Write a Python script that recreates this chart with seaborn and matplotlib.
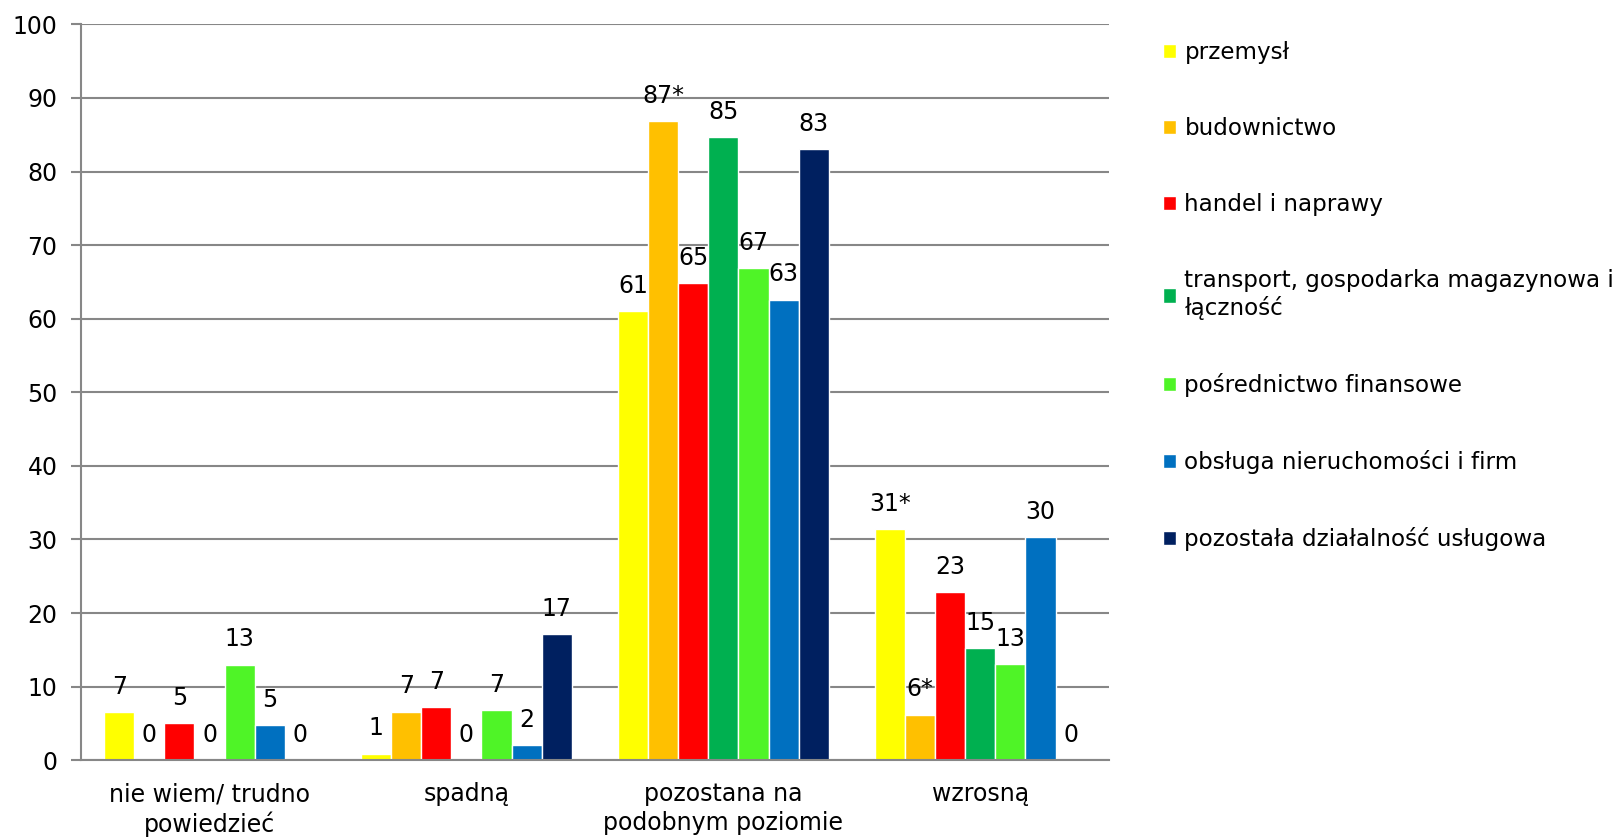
import pandas as pd
import matplotlib.pyplot as plt
import seaborn as sns

# dane
categories = ['nie wiem/ trudno\npowiedzieć', 'spadną', 'pozostana na\npodobnym poziomie', 'wzrosną']
sectors = ['przemysł', 'budownictwo', 'handel i naprawy',
           'transport, gospodarka magazynowa i\nłączność', 'pośrednictwo finansowe',
           'obsługa nieruchomości i firm', 'pozostała działalność usługowa']
colors = ['#FFFF00', '#FFC000', '#FF0000', '#00B050', '#4FF427', '#0070C0', '#002060']

przemysl = [6.5, 0.9, 61.0, 31.4]
budownictwo = [0, 6.6, 86.9, 6.2]
handel = [5.0, 7.2, 64.8, 22.8]
transport = [0, 0, 84.7, 15.2]
finanse = [13.0, 6.8, 66.9, 13.1]
obsluga = [4.8, 2.0, 62.6, 30.3]
pozostala = [0, 17.1, 83.0, 0]

lab_przemysl = ['7', '1', '61', '31*']
lab_budownictwo = ['0', '7', '87*', '6*']
lab_handel = ['5', '7', '65', '23']
lab_transport = ['0', '0', '85', '15']
lab_finanse = ['13', '7', '67', '13']
lab_obsluga = ['5', '2', '63', '30']
lab_pozostala = ['0', '17', '83', '0']

values = [przemysl, budownictwo, handel, transport, finanse, obsluga, pozostala]
labels = [lab_przemysl, lab_budownictwo, lab_handel, lab_transport, lab_finanse, lab_obsluga, lab_pozostala]

rows = []
for s, vals in zip(sectors, values):
    for c, v in zip(categories, vals):
        rows.append({'kategoria': c, 'sektor': s, 'wartosc': v})
df = pd.DataFrame(rows)

sns.set_style('white')
plt.rcParams['font.family'] = ['DejaVu Sans']
plt.rcParams['font.size'] = 17
plt.rcParams['text.color'] = 'black'
plt.rcParams['xtick.color'] = 'black'
plt.rcParams['ytick.color'] = 'black'

fig = plt.figure(figsize=(16.21, 8.4), dpi=100)
ax = fig.add_axes([0.05, 0.095, 0.634, 0.876])

sns.barplot(data=df, x='kategoria', y='wartosc', hue='sektor', order=categories,
            hue_order=sectors, palette=colors, width=0.82, saturation=1,
            errorbar=None, ax=ax, legend=True)

for cont, lab in zip(ax.containers, labels):
    ax.bar_label(cont, labels=lab, padding=9.5, fontsize=17, color='black')

grid_c = '#878787'
ax.set_ylim(0, 100)
ax.set_xlim(-0.5, 3.5)
ax.set_yticks(range(0, 101, 10))
ax.yaxis.grid(True, color=grid_c, linewidth=1.5)
ax.set_axisbelow(True)
ax.set_xlabel('')
ax.set_ylabel('')
for side in ['top', 'right']:
    ax.spines[side].set_visible(False)
for side in ['left', 'bottom']:
    ax.spines[side].set_color(grid_c)
    ax.spines[side].set_linewidth(1.5)

ax.set_xticks([0.5 + i for i in range(-1, 4)], minor=True)
ax.tick_params(axis='x', which='major', length=0, labelsize=17, pad=16, labelcolor='black')
ax.tick_params(axis='x', which='minor', length=8, width=1.5, color=grid_c, direction='out')
ax.tick_params(axis='y', which='major', length=7, width=1.5, color=grid_c, direction='out',
               left=True, labelsize=17, pad=10, labelcolor='black')
for t in ax.get_xticklabels():
    t.set_linespacing(1.25)

handles, leg_labels = ax.get_legend_handles_labels()
ax.legend_.remove()
fig.legend(handles, leg_labels, loc='upper left', bbox_to_anchor=(0.7115, 0.962),
           frameon=False, fontsize=16.6, handlelength=0.6, handleheight=0.6,
           handletextpad=0.35, labelspacing=2.3, borderaxespad=0)

plt.savefig('out.png', dpi=100)
